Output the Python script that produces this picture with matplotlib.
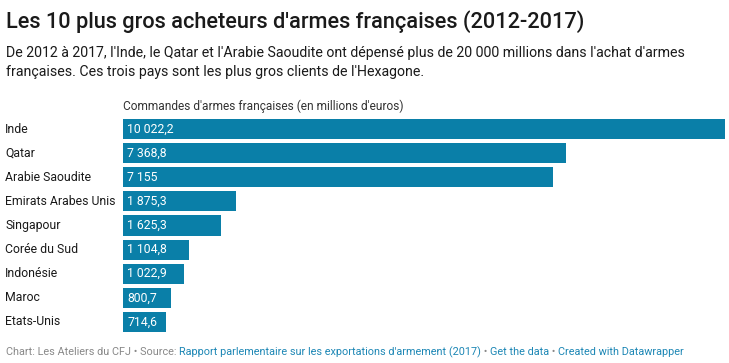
import matplotlib
matplotlib.use("Agg")
import matplotlib.pyplot as plt

plt.rcParams["font.family"] = ["Roboto", "DejaVu Sans"]

countries = ["Inde", "Qatar", "Arabie Saoudite", "Emirats Arabes Unis", "Singapour",
             "Corée du Sud", "Indonésie", "Maroc", "Etats-Unis"]
values = [10022.2, 7368.8, 7155, 1875.3, 1625.3, 1104.8, 1022.9, 800.7, 714.6]
value_labels = ["10 022,2", "7 368,8", "7 155", "1 875,3", "1 625,3",
                "1 104,8", "1 022,9", "800,7", "714,6"]

W, H = 729, 363
BAR_COLOR = "#0a7fa8"
TEXT = "#1a1a1a"
GREY = "#888888"
LINK = "#1d87b5"

fig = plt.figure(figsize=(W / 100, H / 100), dpi=100)


def px(x, y):
    return x / W, 1 - y / H


# bar area: first bar top at y=119, last bar bottom at y=332
left, right, top, bottom = 123, 725, 119, 332
ax = fig.add_axes([left / W, 1 - bottom / H, (right - left) / W, (bottom - top) / H])
bar_h = 0.83
pos = list(range(len(countries)))
ax.barh(pos, values, height=bar_h, color=BAR_COLOR)
ax.set_xlim(0, max(values))
ax.set_ylim(len(countries) - 1 + bar_h / 2, -bar_h / 2)
ax.axis("off")

for i, (name, lab) in enumerate(zip(countries, value_labels)):
    ax.annotate(name, xy=(5 / W, i), xycoords=("figure fraction", "data"),
                ha="left", va="center", fontsize=8.8, color=TEXT)
    ax.annotate(lab, xy=(0, i), xytext=(3, 0), textcoords="offset points",
                ha="left", va="center", fontsize=8.8, color="white")

fig.text(*px(6, 22), "Les 10 plus gros acheteurs d'armes françaises (2012-2017)",
         fontsize=15.7, weight="medium", color=TEXT, va="center")
fig.text(*px(6, 53), "De 2012 à 2017, l'Inde, le Qatar et l'Arabie Saoudite ont dépensé plus de "
         "20 000 millions dans l'achat d'armes", fontsize=10.2, color=TEXT, va="center")
fig.text(*px(6, 72), "françaises. Ces trois pays sont les plus gros clients de l'Hexagone.",
         fontsize=10.2, color=TEXT, va="center")
fig.text(*px(123, 106), "Commandes d'armes françaises (en millions d'euros)",
         fontsize=8.6, color="#333333", va="center")

# footer, pieces chained left to right
footer = [
    ("Chart: Les Ateliers du CFJ • Source: ", GREY),
    ("Rapport parlementaire sur les exportations d'armement (2017)", LINK),
    (" • ", GREY),
    ("Get the data", LINK),
    (" • ", GREY),
    ("Created with Datawrapper", LINK),
]
renderer = fig.canvas.get_renderer()
x = 6
for txt, col in footer:
    t = fig.text(*px(x, 352), txt, fontsize=7.85, color=col, va="center")
    x += t.get_window_extent(renderer=renderer).width

fig.savefig("out.png", dpi=100, facecolor="white")
